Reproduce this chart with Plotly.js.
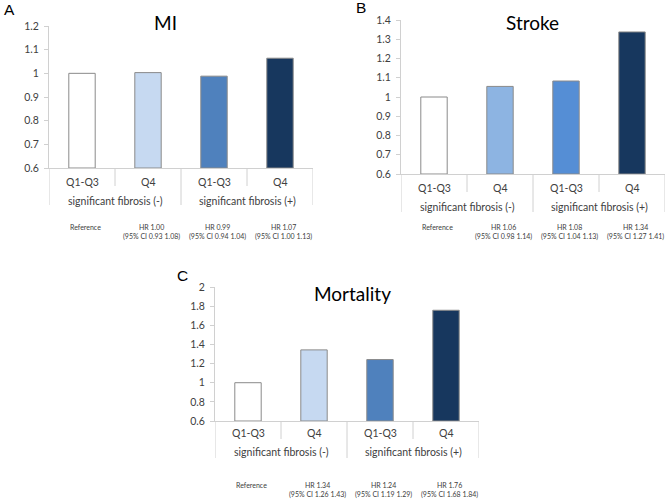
<!DOCTYPE html>
<html>
<head>
<meta charset="utf-8">
<script src="https://cdn.plot.ly/plotly-3.0.1.min.js"></script>
<style>html,body{margin:0;padding:0;background:#fff}#chart{width:668px;height:501px}</style>
</head>
<body>
<div id="chart"></div>
<script>
// ---- data ----
const categories = ["Q1-Q3", "Q4", "Q1-Q3", "Q4"];
const groups = ["significant fibrosis (-)", "significant fibrosis (+)"];
const miValues = [1.00, 1.003, 0.988, 1.064];
const strokeValues = [1.00, 1.055, 1.083, 1.338];
const mortalityValues = [1.00, 1.343, 1.242, 1.757];
const miHR = ["Reference", "HR 1.00<br>(95% CI 0.93 1.08)", "HR 0.99<br>(95% CI 0.94 1.04)", "HR 1.07<br>(95% CI 1.00 1.13)"];
const strokeHR = ["Reference", "HR 1.06<br>(95% CI 0.98 1.14)", "HR 1.08<br>(95% CI 1.04 1.13)", "HR 1.34<br>(95% CI 1.27 1.41)"];
const mortalityHR = ["Reference", "HR 1.34<br>(95% CI 1.26 1.43)", "HR 1.24<br>(95% CI 1.19 1.29)", "HR 1.76<br>(95% CI 1.68 1.84)"];
const titles = ["MI", "Stroke", "Mortality"];
const letters = ["A", "B", "C"];

// ---- styles ----
const W = 668, H = 501;
const FONT = "Lato, 'Open Sans', sans-serif";
const panels = [
  {vals: miValues, hr: miHR, colors: ["#ffffff", "#c6d9f1", "#4f81bd", "#17375e"],
   x0: 49, x1: 313, yt: 26, yb: 168, range: [0.6, 1.2], dtick: 0.1,
   qy: 182, gy: 201, sep: 186, tall: 205, hry: 232, ty: 23, tx: 165, lx: 9, ly: 10},
  {vals: strokeValues, hr: strokeHR, colors: ["#ffffff", "#8db4e2", "#558ed5", "#17375e"],
   x0: 401, x1: 665, yt: 20, yb: 174, range: [0.6, 1.4], dtick: 0.1,
   qy: 188, gy: 207, sep: 192, tall: 212, hry: 232, ty: 22, tx: 532, lx: 361, ly: 8},
  {vals: mortalityValues, hr: mortalityHR, colors: ["#ffffff", "#c6d9f1", "#4f81bd", "#17375e"],
   x0: 215, x1: 479, yt: 287, yb: 421, range: [0.6, 2.0], dtick: 0.2,
   qy: 433, gy: 452, sep: 439, tall: 458, hry: 490, ty: 293, tx: 352, lx: 182, ly: 275}
];
const px = x => x / W;
const py = y => 1 - y / H;

const data = [], shapes = [], annotations = [];
const layout = {
  width: W, height: H, margin: {l: 0, r: 0, t: 0, b: 0},
  paper_bgcolor: "#fff", plot_bgcolor: "rgba(0,0,0,0)", showlegend: false,
  font: {family: FONT, color: "#404040"}
};

panels.forEach((p, i) => {
  const n = i + 1;
  const xa = n === 1 ? "x" : "x" + n, ya = n === 1 ? "y" : "y" + n;
  const xk = n === 1 ? "xaxis" : "xaxis" + n, yk = n === 1 ? "yaxis" : "yaxis" + n;
  const idx = categories.map((_, k) => k);
  data.push({
    type: "bar", x: idx, y: p.vals.map(v => v - p.range[0]), base: p.range[0],
    xaxis: xa, yaxis: ya, width: 0.4,
    marker: {color: p.colors, line: {color: "#8a8a8a", width: 1}},
    hoverinfo: "skip"
  });
  layout[xk] = {
    domain: [px(p.x0), px(p.x1)], anchor: ya, range: [-0.5, 3.5],
    showgrid: false, zeroline: false, showticklabels: false, ticks: "",
    showline: true, linecolor: "#d0d0d0", linewidth: 1, fixedrange: true
  };
  layout[yk] = {
    domain: [py(p.yb), py(p.yt)], anchor: xa, range: p.range,
    dtick: p.dtick, tick0: 0.6, showgrid: false, zeroline: false,
    showline: true, linecolor: "#d0d0d0", linewidth: 1,
    ticks: "outside", ticklen: 4, tickcolor: "#d0d0d0", ticklabelstandoff: 3,
    tickfont: {family: FONT, size: 10.5, color: "#404040"}, fixedrange: true
  };
  [0.5, 2.5].forEach(x => shapes.push({type: "line", xref: xa, yref: "paper",
    x0: x, x1: x, y0: py(p.yb), y1: py(p.sep), line: {color: "#d0d0d0", width: 1}}));
  [-0.5, 1.5, 3.5].forEach(x => shapes.push({type: "line", xref: xa, yref: "paper",
    x0: x, x1: x, y0: py(p.yb), y1: py(p.tall), line: {color: "#d0d0d0", width: 1}}));
  categories.forEach((c, k) => annotations.push({xref: xa, yref: "paper", x: k, y: py(p.qy),
    text: c, showarrow: false, xanchor: "center", yanchor: "middle",
    font: {family: FONT, size: 10.5, color: "#404040"}}));
  groups.forEach((g, k) => annotations.push({xref: xa, yref: "paper", x: 0.5 + 2 * k, y: py(p.gy),
    text: g, showarrow: false, xanchor: "center", yanchor: "middle",
    font: {family: FONT, size: 10.5, color: "#404040"}}));
  p.hr.forEach((t, k) => annotations.push({xref: xa, yref: "paper", x: k, xshift: 3,
    y: py(k === 0 ? p.hry - 5 : p.hry), text: t, showarrow: false,
    xanchor: "center", yanchor: "middle", align: "center",
    font: {family: FONT, size: 7, color: "#404040"}}));
  annotations.push({xref: "paper", yref: "paper", x: px(p.tx), y: py(p.ty), text: titles[i],
    showarrow: false, xanchor: "center", yanchor: "middle",
    font: {family: FONT, size: 19, color: "#000"}});
  annotations.push({xref: "paper", yref: "paper", x: px(p.lx), y: py(p.ly), text: letters[i],
    showarrow: false, xanchor: "center", yanchor: "middle",
    font: {family: "'Liberation Sans', Arial, sans-serif", size: 15.5, color: "#000"}});
});
layout.shapes = shapes;
layout.annotations = annotations;

Plotly.newPlot("chart", data, layout, {displayModeBar: false, staticPlot: true});
</script>
</body>
</html>
